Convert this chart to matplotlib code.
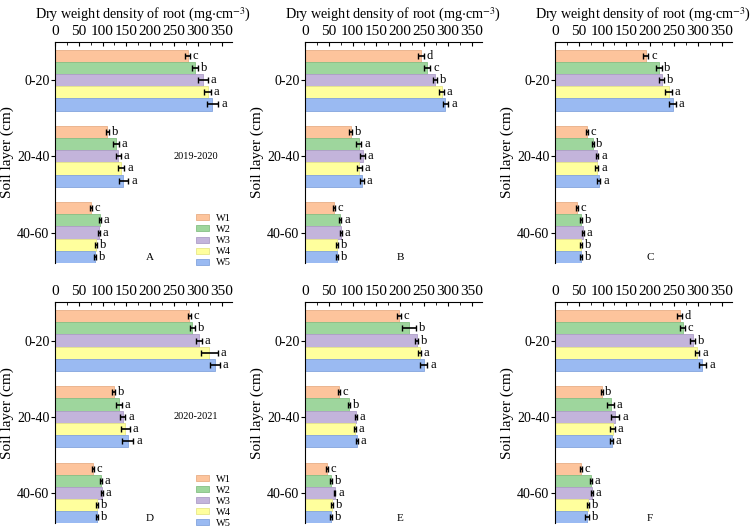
import numpy as np
import matplotlib
matplotlib.use('Agg')
import matplotlib.pyplot as plt
from matplotlib.patches import Patch
from matplotlib.ticker import MultipleLocator

plt.rcParams['font.family'] = ['Liberation Serif', 'DejaVu Serif']
plt.rcParams['mathtext.fontset'] = 'stix'

layers = ['0-20', '20-40', '40-60']
treatments = ['W1', 'W2', 'W3', 'W4', 'W5']
colors = ['#FDC49C', '#9ED69D', '#C3B4DB', '#FFFF9D', '#9ABAF2']
edges = ['#E8AE86', '#86C085', '#AE9EC8', '#E6E68A', '#84A4DD']

# values per panel: rows = soil layer, cols = W1..W5
val_A = [[279, 294, 311, 321, 331],
         [110, 128, 133, 139, 144],
         [75, 95, 92, 86, 84]]
err_A = [[5, 6, 10, 7, 12],
         [3, 6, 5, 7, 10],
         [2, 2, 2, 2, 2]]
let_A = [['c', 'b', 'a', 'a', 'a'],
         ['b', 'a', 'a', 'a', 'a'],
         ['c', 'a', 'a', 'b', 'b']]

val_B = [[243, 257, 273, 287, 295],
         [96, 113, 121, 114, 119],
         [60, 74, 76, 68, 68]]
err_B = [[6, 6, 5, 5, 6],
         [3, 5, 5, 5, 4],
         [2, 2, 2, 2, 2]]
let_B = [['d', 'c', 'b', 'a', 'a'],
         ['b', 'a', 'a', 'a', 'a'],
         ['c', 'a', 'a', 'b', 'b']]

val_C = [[191, 218, 224, 239, 247],
         [67, 79, 89, 88, 92],
         [46, 55, 59, 55, 54]]
err_C = [[5, 6, 6, 7, 7],
         [2, 2, 2, 3, 3],
         [2, 2, 2, 2, 2]]
let_C = [['c', 'b', 'b', 'a', 'a'],
         ['c', 'b', 'a', 'a', 'a'],
         ['c', 'b', 'a', 'b', 'b']]

val_D = [[282, 289, 303, 324, 336],
         [123, 134, 142, 148, 153],
         [79, 97, 99, 89, 88]]
err_D = [[3, 5, 6, 18, 10],
         [3, 6, 6, 9, 12],
         [2, 2, 2, 2, 2]]
let_D = [['c', 'b', 'a', 'a', 'a'],
         ['b', 'a', 'a', 'a', 'a'],
         ['c', 'a', 'a', 'b', 'b']]

val_E = [[197, 218, 235, 241, 249],
         [71, 92, 107, 105, 109],
         [46, 55, 62, 56, 55]]
err_E = [[4, 15, 3, 3, 8],
         [2, 2, 2, 2, 2],
         [2, 2, 2, 2, 2]]
let_E = [['c', 'b', 'b', 'a', 'a'],
         ['c', 'b', 'a', 'a', 'a'],
         ['c', 'b', 'a', 'b', 'b']]

val_F = [[262, 268, 289, 299, 310],
         [98, 117, 126, 121, 119],
         [54, 75, 77, 69, 67]]
err_F = [[5, 5, 5, 4, 8],
         [2, 7, 9, 5, 3],
         [2, 2, 2, 2, 4]]
let_F = [['d', 'c', 'b', 'a', 'a'],
         ['b', 'a', 'a', 'a', 'a'],
         ['c', 'a', 'a', 'b', 'b']]

panels = [('A', val_A, err_A, let_A),
          ('B', val_B, err_B, let_B),
          ('C', val_C, err_C, let_C),
          ('D', val_D, err_D, let_D),
          ('E', val_E, err_E, let_E),
          ('F', val_F, err_F, let_F)]

years = {'A': '2019-2020', 'D': '2020-2021'}

fig = plt.figure(figsize=(7.52, 5.30), dpi=100)

lefts = [0.0731, 0.4056, 0.738]
bottoms = [0.5038, 0.0123]
w, h = 0.2354, 0.417
bar_h = 0.16

for idx, (name, vals, errs, lets) in enumerate(panels):
    row, col = divmod(idx, 3)
    ax = fig.add_axes([lefts[col], bottoms[row], w, h])
    vals = np.array(vals)
    errs = np.array(errs)
    for j in range(len(treatments)):
        ypos = np.arange(len(layers)) - 0.4 + bar_h * (j + 0.5)
        ax.barh(ypos, vals[:, j], height=bar_h, color=colors[j],
                edgecolor=edges[j], linewidth=0.6, label=treatments[j])
        ax.errorbar(vals[:, j], ypos, xerr=errs[:, j], fmt='none',
                    ecolor='black', elinewidth=1.2, capsize=2, capthick=1.0)
        for i in range(len(layers)):
            ax.text(vals[i, j] + errs[i, j] + 6, ypos[i], lets[i][j],
                    va='center', ha='left', fontsize=9)

    ax.set_xlim(0, 372)
    ax.set_ylim(2.4, -0.5)
    ax.set_yticks(range(len(layers)))
    ax.set_yticklabels(layers, fontsize=10)
    ax.set_ylabel('Soil layer (cm)', fontsize=11)
    ax.yaxis.set_label_coords(-0.23, 0.5)

    ax.xaxis.tick_top()
    ax.xaxis.set_major_locator(MultipleLocator(50))
    ax.xaxis.set_minor_locator(MultipleLocator(25))
    ax.tick_params(axis='x', which='major', direction='in', length=3,
                   labelsize=11, pad=3)
    ax.tick_params(axis='x', which='minor', direction='in', length=1.8)
    ax.tick_params(axis='y', length=3, pad=1)
    ax.spines['right'].set_visible(False)
    ax.spines['bottom'].set_visible(False)
    if row == 0:
        ax.xaxis.set_label_position('top')
        ax.set_xlabel('Dry weight density of root (mg$\\cdot$cm$^{-3}$)',
                      fontsize=10.2, labelpad=4)

    ax.text(200, 2.33, name, ha='center', va='center', fontsize=8)

    if name in years:
        ax.text(296, 1.0, years[name], ha='center', va='center', fontsize=7.5)
        handles = [Patch(facecolor=colors[j], edgecolor=edges[j], linewidth=0.6)
                   for j in range(len(treatments))]
        ax.legend(handles, treatments, loc='lower right', frameon=False,
                  fontsize=7.5, handlelength=1.25, handleheight=0.5,
                  handletextpad=0.65, labelspacing=0.2, borderpad=0.0,
                  borderaxespad=0.0, bbox_to_anchor=(0.995, -0.02))

fig.savefig('out.png', dpi=100)
